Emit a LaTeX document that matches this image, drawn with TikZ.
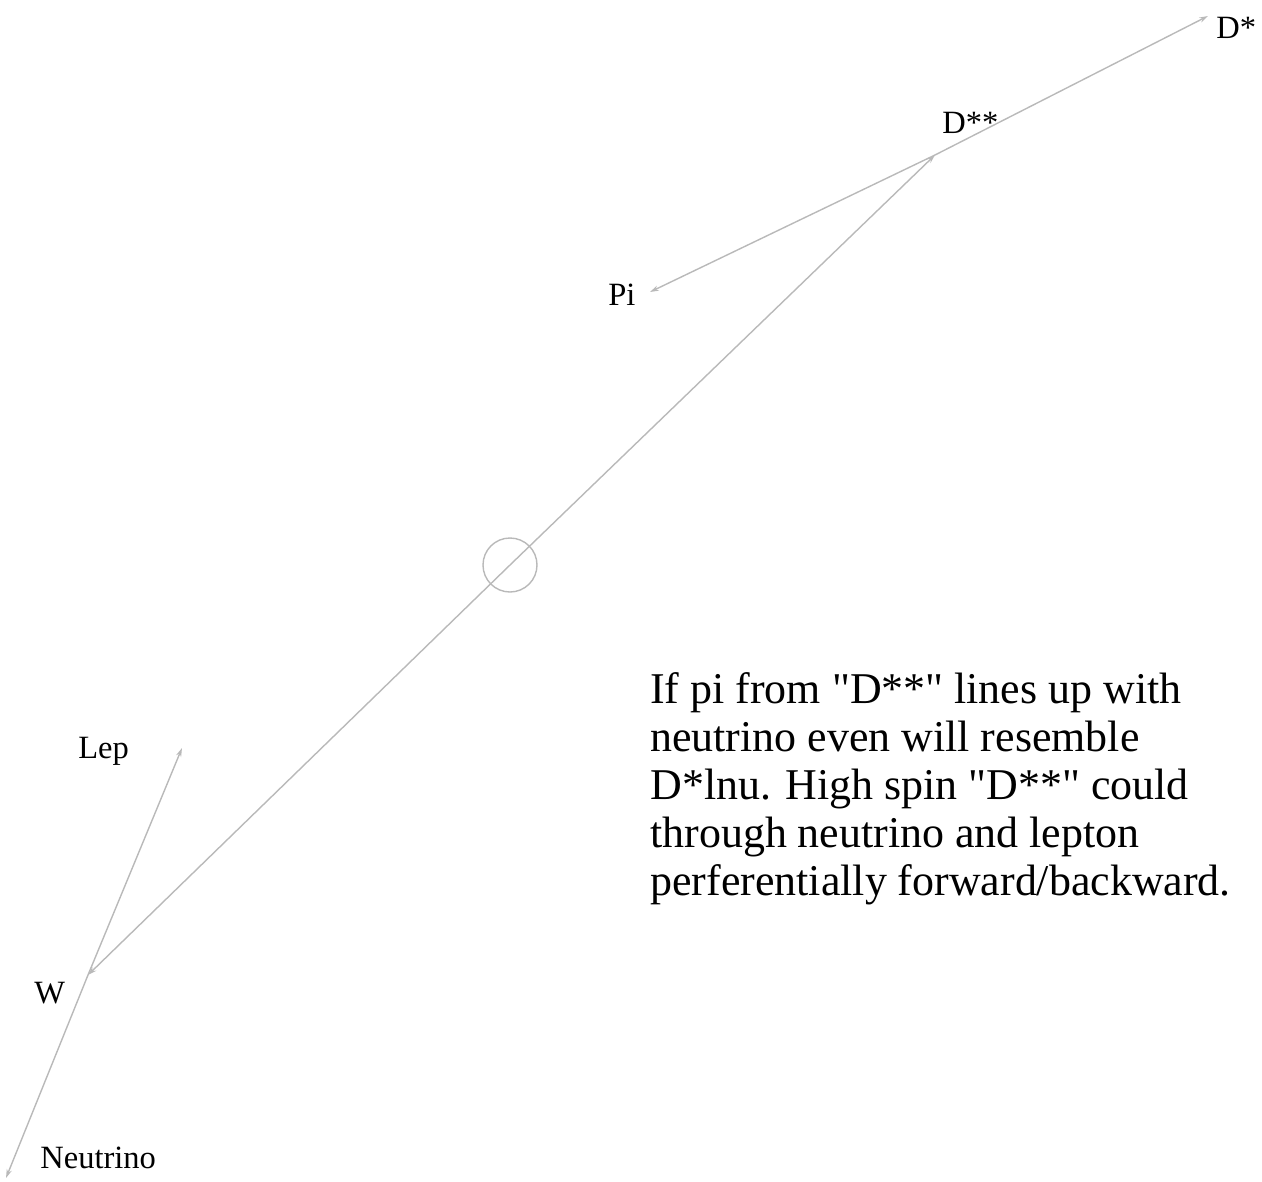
\documentclass[tikz,border=0pt]{standalone}
\usepackage{fontspec}
\setmainfont{Liberation Serif}
\usetikzlibrary{arrows.meta}

\begin{document}
\begin{tikzpicture}[
      x=0.02cm, y=-0.02cm,
      >={Stealth[length=5pt, width=3pt]},
      track/.style={->, draw=gray!55, line width=0.8pt},
      vertex/.style={draw=gray!55, line width=0.8pt},
      particle/.style={anchor=base west, inner sep=0pt, font=\fontsize{18.5}{20}\selectfont},
      remark/.style={anchor=north west, inner sep=0pt, align=left, font=\fontsize{25}{27.3}\selectfont}
  ]
      \useasboundingbox (0,0) rectangle (1262,1181);

      % Vertices and track ends
      \coordinate (b)   at (510,565);
      \coordinate (dss) at (935,155);
      \coordinate (w)   at (88,975);
      \coordinate (dst) at (1208,16);
      \coordinate (pi)  at (650,292);
      \coordinate (lep) at (182,748);
      \coordinate (nu)  at (6,1178);

      % B decay point
      \draw[vertex] (b) circle (27);

      % Tracks
      \draw[track] (b) -- (dss);
      \draw[track] (b) -- (w);
      \draw[track] (dss) -- (dst);
      \draw[track] (dss) -- (pi);
      \draw[track] (w) -- (lep);
      \draw[track] (w) -- (nu);

      % Labels
      \node[particle] (dstlab) at (1216,38)  {D*};
      \node[particle] (dsslab) at (942,133)  {D**};
      \node[particle] (pilab)  at (608,305)  {Pi};
      \node[particle] (leplab) at (78,758)   {Lep};
      \node[particle] (wlab)   at (34,1003)  {W};
      \node[particle] (nulab)  at (40,1168)  {Neutrino};

      \node[remark] (note) at (650,672) {If pi from \textquotedbl D**\textquotedbl{} lines up with\\
        neutrino even will resemble\\
        D*lnu. High spin \textquotedbl D**\textquotedbl{} could\\
        through neutrino and lepton\\
        perferentially forward/backward.};
  \end{tikzpicture}
\end{document}
